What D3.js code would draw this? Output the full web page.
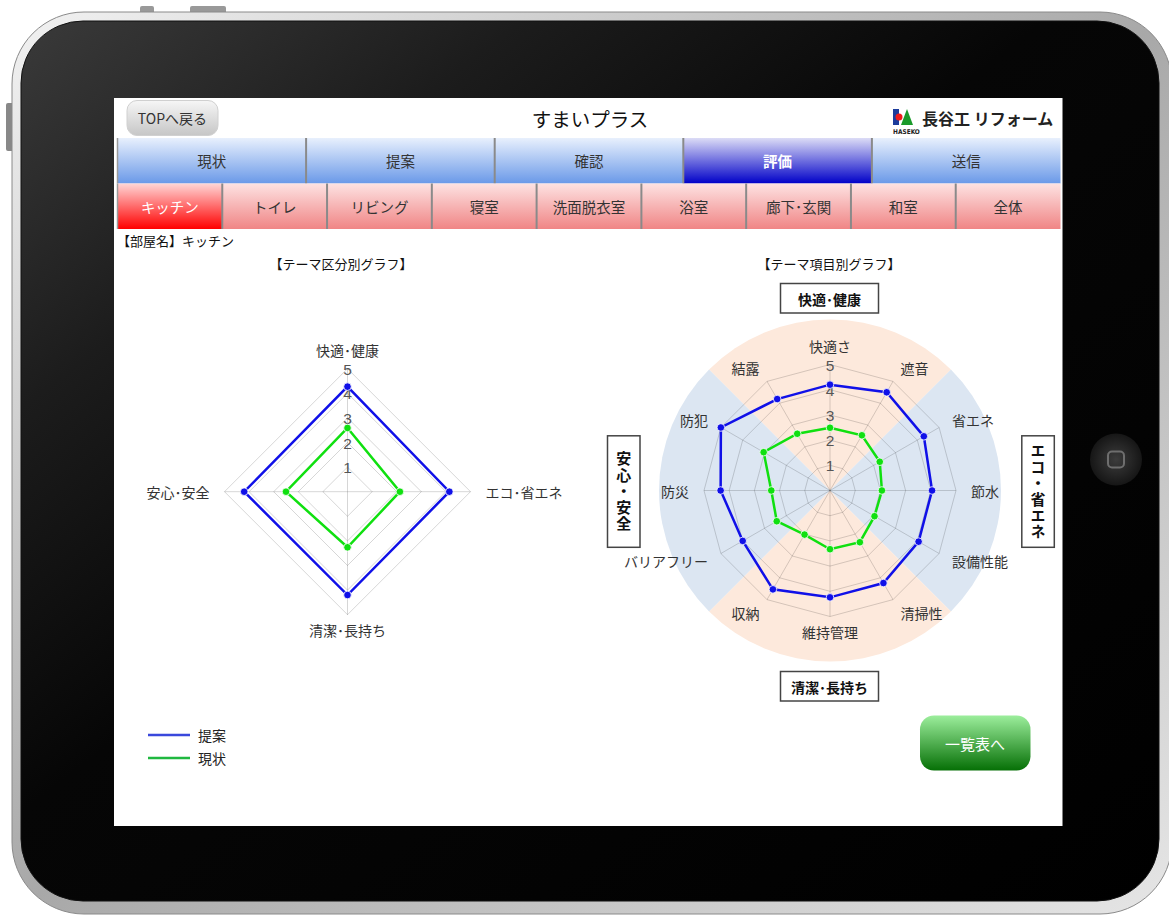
<!DOCTYPE html>
<html>
<head>
<meta charset="utf-8">
<script src="https://cdn.jsdelivr.net/npm/d3@7"></script>
<style>
  html, body { margin: 0; padding: 0; background: #fff; }
  svg { display: block; }
</style>
</head>
<body>
<script>
// ---- data ----
const mainTabs = ["現状", "提案", "確認", "評価", "送信"];
const roomTabs = ["キッチン", "トイレ", "リビング", "寝室", "洗面脱衣室", "浴室", "廊下･玄関", "和室", "全体"];

const themeLabels = ["快適･健康", "エコ･省エネ", "清潔･長持ち", "安心･安全"];
const themeProposal = [4.27, 4.14, 4.2, 4.2];
const themeCurrent = [2.59, 2.13, 2.26, 2.5];

const itemLabels = ["快適さ", "遮音", "省エネ", "節水", "設備性能", "清掃性", "維持管理", "収納", "バリアフリー", "防災", "防犯", "結露"];
const itemProposal = [4.2, 4.5, 4.3, 4.05, 4.06, 4.24, 4.24, 4.53, 4.0, 4.34, 5.0, 4.19];
const itemCurrent = [2.49, 2.53, 2.28, 2.06, 2.04, 2.37, 2.33, 2.02, 2.44, 2.33, 3.04, 2.6];

const groupLabels = ["快適･健康", "エコ・省エネ", "清潔･長持ち", "安心・安全"];
const scaleTicks = [1, 2, 3, 4, 5];

const legendNames = ["提案", "現状"];

const W = 1169, H = 915;
const jp = "'Noto Sans CJK JP', 'Noto Sans', sans-serif";
const blue = "#1010e8", green = "#10e010";

const svg = d3.select("body").append("svg")
  .attr("width", W)
  .attr("height", H)
  .attr("viewBox", [0, 0, W, H]);

const defs = svg.append("defs");

function linGrad(id, stops, x2 = 0, y2 = 1) {
  const g = defs.append("linearGradient").attr("id", id)
    .attr("x1", 0).attr("y1", 0).attr("x2", x2).attr("y2", y2);
  stops.forEach(([o, c]) => g.append("stop").attr("offset", o).attr("stop-color", c));
}
linGrad("silver", [[0, "#f2f2f2"], [0.5, "#a8a8a8"], [1, "#e6e6e6"]], 1, 1);
linGrad("body", [[0, "#3a3a3a"], [0.22, "#1c1c1c"], [0.45, "#060606"], [1, "#000"]], 1, 1);
linGrad("tabBlue", [[0, "#e8f0fd"], [1, "#6a99e8"]]);
linGrad("tabActive", [[0, "#dcdcf6"], [1, "#0000c8"]]);
linGrad("tabPink", [[0, "#fde2e2"], [1, "#f08585"]]);
linGrad("tabRed", [[0, "#ffd6d6"], [1, "#ff0000"]]);
linGrad("btnGrey", [[0, "#f6f6f6"], [1, "#c6c6c6"]]);
linGrad("btnGreen", [[0, "#9cee9c"], [1, "#067006"]]);
const rg = defs.append("radialGradient").attr("id", "homeBtn");
rg.append("stop").attr("offset", 0).attr("stop-color", "#3c3c3c");
rg.append("stop").attr("offset", 1).attr("stop-color", "#161616");

// ---- device frame ----
svg.append("rect").attr("x", 140).attr("y", 6).attr("width", 14).attr("height", 8).attr("rx", 2).attr("fill", "#999");
svg.append("rect").attr("x", 190).attr("y", 6).attr("width", 36).attr("height", 8).attr("rx", 2).attr("fill", "#999");
svg.append("rect").attr("x", 6).attr("y", 103).attr("width", 8).attr("height", 48).attr("rx", 2).attr("fill", "#888");

svg.append("rect")
  .attr("x", 12).attr("y", 12).attr("width", 1160).attr("height", 902).attr("rx", 72)
  .attr("fill", "url(#silver)").attr("stroke", "#8a8a8a");
svg.append("rect")
  .attr("x", 21).attr("y", 21).attr("width", 1138).attr("height", 880).attr("rx", 62)
  .attr("fill", "url(#body)").attr("stroke", "#111");

const home = svg.append("g").attr("transform", "translate(1116,459.5)");
home.append("circle").attr("r", 26).attr("fill", "url(#homeBtn)");
home.append("rect").attr("x", -8).attr("y", -8).attr("width", 16).attr("height", 16).attr("rx", 4)
  .attr("fill", "none").attr("stroke", "#6e6e6e").attr("stroke-width", 2);

// ---- screen ----
svg.append("rect").attr("x", 114).attr("y", 98).attr("width", 948.5).attr("height", 728).attr("fill", "#fff");

// header
svg.append("rect").attr("x", 127).attr("y", 100.5).attr("width", 91).attr("height", 35).attr("rx", 10)
  .attr("fill", "url(#btnGrey)").attr("stroke", "#d0d0d0");
svg.append("text").attr("x", 172.5).attr("y", 118).attr("text-anchor", "middle").attr("dominant-baseline", "central")
  .attr("font-family", jp).attr("font-size", 14).attr("fill", "#333").text("TOPへ戻る");
svg.append("text").attr("x", 590).attr("y", 118).attr("text-anchor", "middle").attr("dominant-baseline", "central")
  .attr("font-family", jp).attr("font-size", 19.5).attr("fill", "#111").text("すまいプラス");

// logo
const logo = svg.append("g");
logo.append("rect").attr("x", 893).attr("y", 109).attr("width", 6).attr("height", 16).attr("fill", "#1c3c9c");
logo.append("circle").attr("cx", 899).attr("cy", 117).attr("r", 3.5).attr("fill", "#ee1c1c");
logo.append("path").attr("d", "M901,125 L907,109 L913,125 Z").attr("fill", "#1a9a2a");
logo.append("text").attr("x", 893).attr("y", 134).attr("font-family", "'Liberation Sans Narrow', 'DejaVu Sans Condensed', sans-serif")
  .attr("font-size", 6.5).attr("font-weight", "bold").attr("fill", "#222").text("HASEKO");
logo.append("text").attr("x", 922).attr("y", 118).attr("dominant-baseline", "central")
  .attr("font-family", jp).attr("font-size", 16).attr("font-weight", "bold").attr("fill", "#222").text("長谷工 リフォーム");

// tabs
function tabRow(names, y0, h, active, fill, fillActive, boldActive) {
  const x = d3.scaleBand().domain(names).range([117.5, 1060.5]);
  const g = svg.append("g");
  const t = g.selectAll("g").data(names).join("g")
    .attr("transform", d => `translate(${x(d)},${y0})`);
  t.append("rect").attr("width", x.bandwidth()).attr("height", h)
    .attr("fill", d => d === active ? `url(#${fillActive})` : `url(#${fill})`);
  t.append("text").attr("x", x.bandwidth() / 2).attr("y", h / 2).attr("text-anchor", "middle")
    .attr("dominant-baseline", "central").attr("font-family", jp).attr("font-size", 14.5)
    .attr("font-weight", d => d === active && boldActive ? "bold" : "normal")
    .attr("fill", d => d === active ? "#fff" : "#333").text(d => d);
  g.selectAll("line").data(names.slice(1)).join("line")
    .attr("x1", d => x(d)).attr("x2", d => x(d)).attr("y1", y0).attr("y2", y0 + h)
    .attr("stroke", "#8a8a8a").attr("stroke-width", 2);
  g.append("line").attr("x1", 117.5).attr("x2", 117.5).attr("y1", y0).attr("y2", y0 + h)
    .attr("stroke", "#9a9a9a").attr("stroke-width", 1.5);
}
tabRow(mainTabs, 138, 45.5, "評価", "tabBlue", "tabActive", true);
tabRow(roomTabs, 183.5, 45.5, "キッチン", "tabPink", "tabRed", false);

svg.append("text").attr("x", 117).attr("y", 240).attr("dominant-baseline", "central")
  .attr("font-family", jp).attr("font-size", 13).attr("fill", "#111").text("【部屋名】キッチン");
svg.append("text").attr("x", 341).attr("y", 263).attr("text-anchor", "middle").attr("dominant-baseline", "central")
  .attr("font-family", jp).attr("font-size", 13).attr("fill", "#111").text("【テーマ区分別グラフ】");
svg.append("text").attr("x", 829).attr("y", 263).attr("text-anchor", "middle").attr("dominant-baseline", "central")
  .attr("font-family", jp).attr("font-size", 13).attr("fill", "#111").text("【テーマ項目別グラフ】");

// ---- radar ----
function radar(opts) {
  const { cx, cy, R, labels, series, bands } = opts;
  const n = labels.length;
  const r = d3.scaleLinear().domain([0, 5]).range([0, R]);
  const angle = i => i * 2 * Math.PI / n;
  const g = svg.append("g").attr("transform", `translate(${cx},${cy})`);

  if (bands) {
    const arc = d3.arc().innerRadius(0).outerRadius(bands.radius);
    g.selectAll(".band").data(bands.colors).join("path")
      .attr("class", "band")
      .attr("d", (c, k) => arc({ startAngle: (k - 0.5) * Math.PI / 2, endAngle: (k + 0.5) * Math.PI / 2 }))
      .attr("fill", c => c);
  }

  const ring = d3.lineRadial().angle((d, i) => angle(i)).radius(d => r(d)).curve(d3.curveLinearClosed);
  g.selectAll(".grid").data(scaleTicks).join("path")
    .attr("class", "grid")
    .attr("d", t => ring(labels.map(() => t)))
    .attr("fill", "none").attr("stroke", "rgba(0,0,0,0.16)").attr("stroke-width", 1);
  g.selectAll(".axis").data(labels).join("line")
    .attr("class", "axis")
    .attr("x2", (d, i) => r(5) * Math.sin(angle(i)))
    .attr("y2", (d, i) => -r(5) * Math.cos(angle(i)))
    .attr("stroke", "rgba(0,0,0,0.16)").attr("stroke-width", 1);

  g.selectAll(".tick").data(scaleTicks).join("text")
    .attr("class", "tick")
    .attr("y", t => -r(t) + 0.5).attr("text-anchor", "middle").attr("dominant-baseline", "central")
    .attr("font-family", "'Liberation Sans', Arial, sans-serif").attr("font-size", 15.5).attr("fill", "#555")
    .text(t => t);

  // the top label sits a little higher so it clears the "5"
  const lr = i => Math.cos(angle(i)) > 0.99 ? R + 19 : R + 15;
  g.selectAll(".plabel").data(labels).join("text")
    .attr("class", "plabel")
    .attr("x", (d, i) => lr(i) * Math.sin(angle(i)))
    .attr("y", (d, i) => -lr(i) * Math.cos(angle(i)))
    .attr("text-anchor", (d, i) => {
      const s = Math.sin(angle(i));
      return Math.abs(s) < 0.01 ? "middle" : s > 0 ? "start" : "end";
    })
    .attr("dominant-baseline", "central")
    .attr("font-family", jp).attr("font-size", 14).attr("fill", "#333")
    .text(d => d);

  series.forEach(s => {
    g.append("path").attr("d", ring(s.values))
      .attr("fill", "none").attr("stroke", s.color).attr("stroke-width", 2.5);
    g.selectAll(null).data(s.values).join("circle")
      .attr("cx", (v, i) => r(v) * Math.sin(angle(i)))
      .attr("cy", (v, i) => -r(v) * Math.cos(angle(i)))
      .attr("r", 3.8).attr("fill", s.color).attr("stroke", "#fff").attr("stroke-width", 0.8);
  });
}

radar({
  cx: 347.5, cy: 491.7, R: 123, labels: themeLabels,
  series: [{ values: themeProposal, color: blue }, { values: themeCurrent, color: green }]
});

radar({
  cx: 830, cy: 490.5, R: 126, labels: itemLabels,
  bands: { radius: 171, colors: ["#fde9dc", "#dce6f2", "#fde9dc", "#dce6f2"] },
  series: [{ values: itemProposal, color: blue }, { values: itemCurrent, color: green }]
});

// group boxes around the item radar
function hBox(text, x, y) {
  svg.append("rect").attr("x", x).attr("y", y).attr("width", 98).attr("height", 29.5)
    .attr("fill", "#fff").attr("stroke", "#444").attr("stroke-width", 1.5);
  svg.append("text").attr("x", x + 49).attr("y", y + 15).attr("text-anchor", "middle").attr("dominant-baseline", "central")
    .attr("font-family", jp).attr("font-size", 14).attr("font-weight", "bold").attr("fill", "#111").text(text);
}
function vBox(text, x, y) {
  svg.append("rect").attr("x", x).attr("y", y).attr("width", 32.5).attr("height", 111.5)
    .attr("fill", "#fff").attr("stroke", "#444").attr("stroke-width", 1.5);
  svg.append("text")
    .attr("x", x + 16.3).attr("y", y + 56)
    .attr("writing-mode", "vertical-rl")
    .style("writing-mode", "vertical-rl")
    .attr("text-anchor", "middle")
    .attr("letter-spacing", 1.2)
    .attr("font-family", jp).attr("font-size", 15).attr("font-weight", "bold").attr("fill", "#111")
    .text(text);
}
hBox(groupLabels[0], 780.5, 283.5);
vBox(groupLabels[1], 1021.8, 435.8);
hBox(groupLabels[2], 780.5, 671.5);
vBox(groupLabels[3], 607.5, 435.8);

// legend
const legendColors = ["#3a48dc", "#20b840"];
const lg = svg.append("g").attr("transform", "translate(148,735)");
const li = lg.selectAll("g").data(legendNames).join("g").attr("transform", (d, i) => `translate(0,${i * 23})`);
li.append("line").attr("x2", 42).attr("stroke", (d, i) => legendColors[i]).attr("stroke-width", 2.5);
li.append("text").attr("x", 50).attr("dominant-baseline", "central")
  .attr("font-family", jp).attr("font-size", 14).attr("fill", "#222").text(d => d);

// list button
svg.append("rect").attr("x", 920).attr("y", 715.5).attr("width", 110.5).attr("height", 55).attr("rx", 14)
  .attr("fill", "url(#btnGreen)");
svg.append("text").attr("x", 975).attr("y", 743).attr("text-anchor", "middle").attr("dominant-baseline", "central")
  .attr("font-family", jp).attr("font-size", 15).attr("fill", "#fff").text("一覧表へ");
</script>
</body>
</html>
